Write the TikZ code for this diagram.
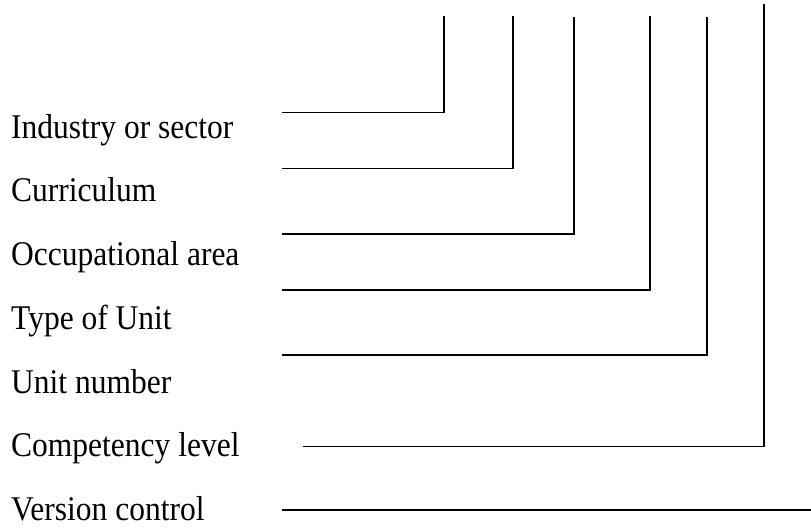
\documentclass[tikz,border=0pt]{standalone}
\usepackage{fontspec}
\setmainfont{Liberation Serif}
\usepackage{tikz}

\begin{document}
\begin{tikzpicture}[x=1pt,y=-1pt,
    field/.style={anchor=base west,inner sep=0pt,font=\fontsize{31.5}{36}\selectfont},
    leader/.style={line width=1.6pt}]
			\useasboundingbox (0,0) rectangle (811,529);
			% labels
			\foreach \nm/\yb/\lab in {%
				ind/139/{Industry or sector},
				cur/202/{Curriculum},
				occ/265.5/{Occupational area},
				typ/329/{Type of Unit},
				num/393/{Unit number},
				lvl/456.5/{Competency level},
				ver/520.5/{Version control}}{
				\node[field] (\nm) at (11,\yb) {\scalebox{1}[1.1]{\lab}};
			}
			% leader lines, one per field of the code
			\foreach \nm/\xs/\yh/\xv/\yt in {%
				a/282/112.5/444/16,
				b/282/168.5/513/16,
				c/282/234/574/17,
				d/282/290/650/16,
				e/282/355/707/17,
				f/303/446.5/764/4.5}{
				\coordinate (\nm0) at (\xs,\yh);
				\coordinate (\nm1) at (\xv,\yh);
				\coordinate (\nm2) at (\xv,\yt);
				\draw[leader] (\nm0) -- (\nm1) -- (\nm2);
			}
			\coordinate (g0) at (282,510);
			\coordinate (g1) at (811,510);
			\draw[leader,line width=2pt] (g0) -- (g1);
		\end{tikzpicture}
\end{document}
